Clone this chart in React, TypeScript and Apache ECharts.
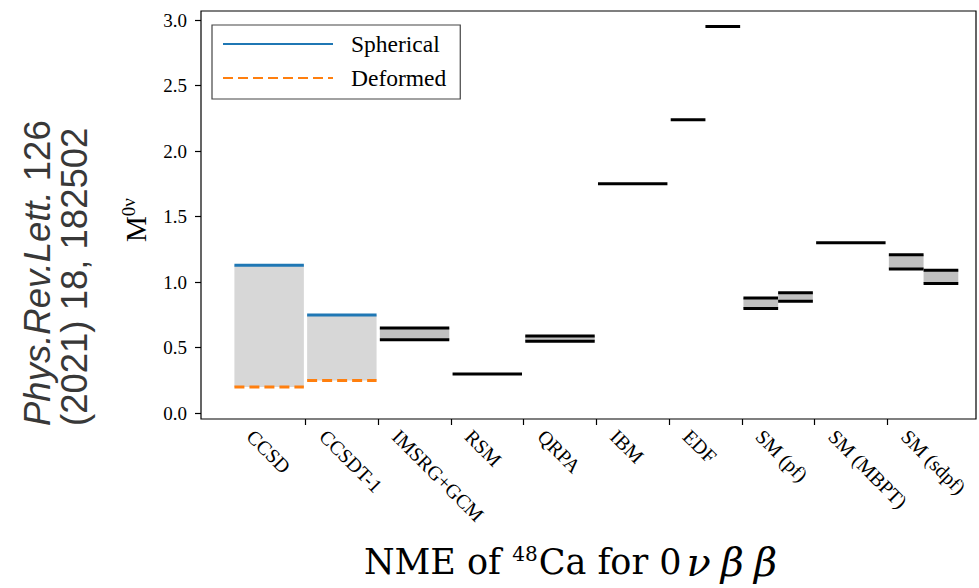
import React, { useEffect, useRef } from 'react';
import * as echarts from 'echarts';

// ---------- data ----------
const categories = ['CCSD', 'CCSDT-1', 'IMSRG+GCM', 'RSM', 'QRPA', 'IBM', 'EDF', 'SM (pf)', 'SM (MBPT)', 'SM (sdpf)'];
// coupled-cluster results (CCSD, CCSDT-1)
const ccCategory = [0, 1];
const sphericalValues = [1.13, 0.75];
const deformedValues = [0.20, 0.25];
// other methods: category index, slot (0 full width, 1 left half, 2 right half), lower, upper
const rangeCategory = [2, 3, 4, 5, 6, 6, 7, 7, 8, 9, 9];
const rangeSlot = [0, 0, 0, 0, 1, 2, 1, 2, 0, 1, 2];
const rangeLower = [0.56, 0.30, 0.55, 1.75, 2.24, 2.95, 0.80, 0.855, 1.30, 1.10, 0.99];
const rangeUpper = [0.65, 0.30, 0.59, 1.75, 2.24, 2.95, 0.88, 0.92, 1.30, 1.21, 1.09];
const yTicks = [0, 0.5, 1, 1.5, 2, 2.5, 3];
const xBoundaryTicks = [1, 2, 3, 4, 5, 6, 7, 8, 9];

const HALF = 0.4775;
const LABEL_SHIFT = -0.26;
const SERIF = '"Liberation Serif", "DejaVu Serif", serif';
const WIDE_SERIF = '"DejaVu Serif", serif';
const SANS = '"Liberation Sans", Arial, sans-serif';

function slotExtent(cat: number, slot: number): [number, number] {
  const c = cat + 0.5;
  if (slot === 1) return [c - HALF, c];
  if (slot === 2) return [c, c + HALF];
  return [c - HALF, c + HALF];
}

export default function App() {
  const ref = useRef<HTMLDivElement>(null);
  useEffect(() => {
    document.body.style.margin = '0';
    if (!ref.current) return;
    const chart = echarts.init(ref.current, undefined, { renderer: 'svg' });

    const rangeData = rangeCategory.map((c, k) => [c, rangeSlot[k], rangeLower[k], rangeUpper[k]]);
    const ccData = ccCategory.map((c, k) => [c, 0, deformedValues[k], sphericalValues[k]]);

    const makeRenderItem = (fill: string, drawLines: boolean) => (params: any, api: any) => {
      const cat = api.value(0);
      const slot = api.value(1);
      const lo = api.value(2);
      const hi = api.value(3);
      const [x0, x1] = slotExtent(cat, slot);
      const pTop = api.coord([x0, hi]);
      const pBot = api.coord([x1, lo]);
      const children: any[] = [];
      if (hi > lo) {
        children.push({
          type: 'rect',
          shape: { x: pTop[0], y: pTop[1], width: pBot[0] - pTop[0], height: pBot[1] - pTop[1] },
          style: { fill },
        });
      }
      if (drawLines) {
        children.push({
          type: 'line',
          shape: { x1: pTop[0], y1: pTop[1], x2: pBot[0], y2: pTop[1] },
          style: { stroke: '#000', lineWidth: 3 },
        });
        if (hi > lo) {
          children.push({
            type: 'line',
            shape: { x1: pTop[0], y1: pBot[1], x2: pBot[0], y2: pBot[1] },
            style: { stroke: '#000', lineWidth: 3 },
          });
        }
      }
      return { type: 'group', children };
    };

    const lineSeries: any[] = [];
    ccCategory.forEach((c, k) => {
      const [x0, x1] = slotExtent(c, 0);
      lineSeries.push({
        type: 'line',
        name: 'Spherical',
        data: [[x0, sphericalValues[k]], [x1, sphericalValues[k]]],
        symbol: 'none',
        showSymbol: false,
        silent: true,
        z: 5,
        lineStyle: { color: '#1f77b4', width: 3 },
        itemStyle: { color: 'rgba(0,0,0,0)', borderWidth: 0 },
      });
      lineSeries.push({
        type: 'line',
        name: 'Deformed',
        data: [[x0, deformedValues[k]], [x1, deformedValues[k]]],
        symbol: 'none',
        showSymbol: false,
        silent: true,
        z: 5,
        lineStyle: { color: '#ff7f0e', width: 3, type: [10, 5] },
        itemStyle: { color: 'rgba(0,0,0,0)', borderWidth: 0 },
      });
    });

    chart.setOption({
      animation: false,
      backgroundColor: '#fff',
      grid: { left: 201, right: 3, top: 11, bottom: 169, show: true, borderColor: '#000', borderWidth: 1.2, backgroundColor: 'transparent', outerBoundsMode: 'none' },
      legend: {
        orient: 'vertical',
        left: 212,
        top: 25,
        itemWidth: 110,
        itemHeight: 14,
        itemGap: 10,
        padding: [7, 14, 9, 10],
        borderColor: '#444',
        borderWidth: 1.2,
        borderRadius: 0,
        backgroundColor: '#fff',
        data: ['Spherical', 'Deformed'],
        itemStyle: { opacity: 0 },
        textStyle: { fontFamily: SERIF, fontSize: 23.5, lineHeight: 24, color: '#000', padding: [0, 0, 0, 13] },
      },
      xAxis: {
        type: 'value',
        min: -0.437,
        max: 10.221,
        axisLine: { show: false, onZero: false },
        splitLine: { show: false },
        axisTick: { show: true, customValues: xBoundaryTicks, length: 6, lineStyle: { color: '#000', width: 1.2 } },
        axisLabel: {
          customValues: categories.map((_, i) => i + 0.5 + LABEL_SHIFT),
          formatter: (v: number) => categories[Math.floor(v)] ?? '',
          rotate: -45,
          margin: 14,
          fontFamily: SERIF,
          fontSize: 20,
          color: '#000',
        },
      },
      yAxis: {
        type: 'value',
        min: -0.044,
        max: 3.069,
        axisLine: { show: false, onZero: false },
        splitLine: { show: false },
        axisTick: { show: true, customValues: yTicks, length: 6, lineStyle: { color: '#000', width: 1.2 } },
        axisLabel: {
          customValues: yTicks,
          formatter: (v: number) => v.toFixed(1),
          margin: 14,
          fontFamily: SERIF,
          fontSize: 19,
          color: '#000',
        },
        name: '{m|M}{s|0ν}',
        nameLocation: 'middle',
        nameRotate: 90,
        nameGap: 48,
        nameTextStyle: {
          rich: {
            m: { fontFamily: SERIF, fontSize: 29, lineHeight: 34, color: '#000' },
            s: { fontFamily: SERIF, fontSize: 19, lineHeight: 34, verticalAlign: 'top', color: '#000', padding: [0, 10, 0, 0] },
          },
        },
      },
      graphic: [
        {
          type: 'text',
          x: 19,
          y: 426,
          rotation: Math.PI / 2,
          style: {
            text: '{i|Phys.Rev.Lett.}{n| 126}\n{n|(2021) 18, 182502}',
            align: 'left',
            verticalAlign: 'top',
            rich: {
              i: { fontFamily: SANS, fontStyle: 'italic', fontSize: 36.5, lineHeight: 37, fill: '#383838' },
              n: { fontFamily: SANS, fontSize: 36.5, lineHeight: 37, fill: '#383838' },
            },
          },
        },
        {
          type: 'text',
          x: 573,
          y: 562,
          style: {
            text: '{a|NME of }{s|48}{a|Ca for 0}{g|ν}{g|β}{g|β}',
            align: 'center',
            verticalAlign: 'middle',
            rich: {
              a: { fontFamily: WIDE_SERIF, fontSize: 35, lineHeight: 42, fill: '#000' },
              s: { fontFamily: WIDE_SERIF, fontSize: 20, lineHeight: 42, verticalAlign: 'top', fill: '#000', padding: [3, 1, 0, 0] },
              g: { fontFamily: WIDE_SERIF, fontStyle: 'italic', fontSize: 40, lineHeight: 42, fill: '#000', padding: [0, 5, 0, 5] },
            },
          },
        },
      ],
      series: [
        {
          type: 'custom',
          name: 'cc-band',
          silent: true,
          z: 1,
          data: ccData,
          renderItem: makeRenderItem('#d7d7d7', false),
        },
        {
          type: 'custom',
          name: 'ranges',
          silent: true,
          z: 2,
          data: rangeData,
          renderItem: makeRenderItem('#c0c0c0', true),
        },
        ...lineSeries,
      ],
    });
    return () => chart.dispose();
  }, []);
  return <div ref={ref} style={{ width: 979, height: 588 }} />;
}
